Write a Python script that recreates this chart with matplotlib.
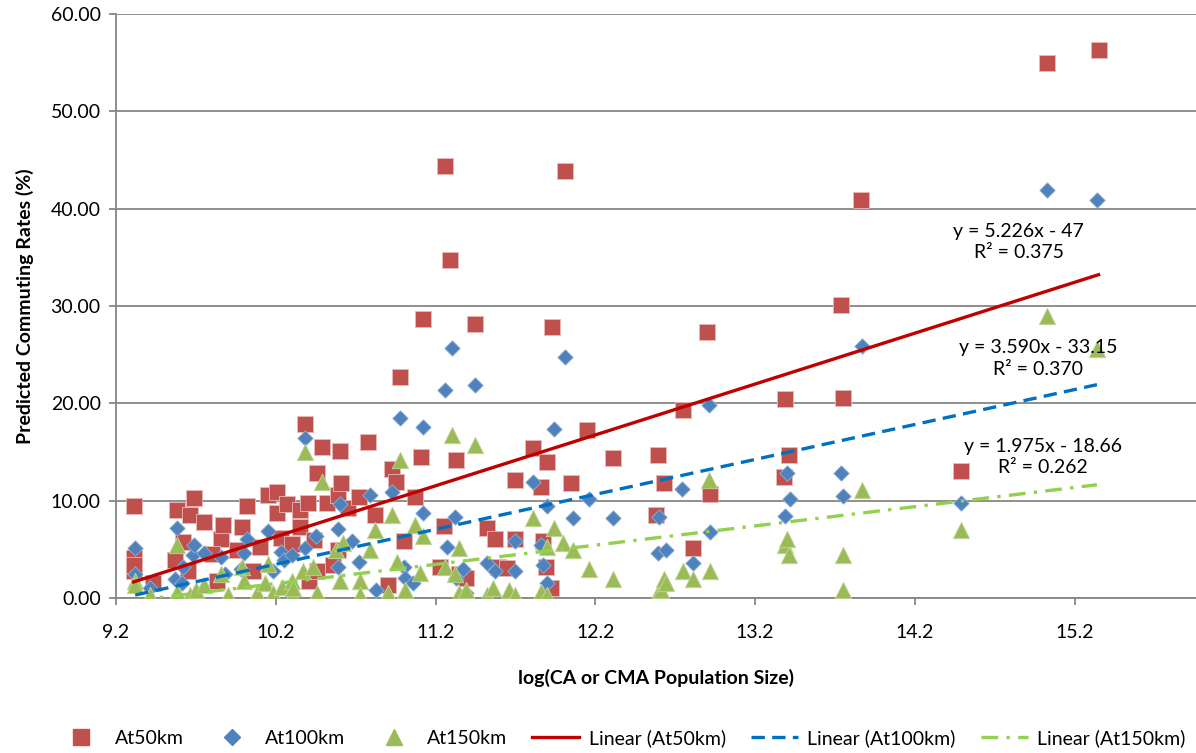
import matplotlib
matplotlib.use('Agg')
import matplotlib.pyplot as plt
from matplotlib.lines import Line2D

plt.rcParams['font.family'] = ['Lato', 'DejaVu Sans']

# data (x = log of population, y = predicted commuting rate %)
x50 = [9.31, 9.31, 9.31, 9.31, 9.43, 9.57, 9.58, 9.65, 9.66, 9.69, 9.75, 9.83, 9.86, 9.87,
       9.96, 9.99, 10.02, 10.06, 10.15, 10.21, 10.21, 10.23, 10.27, 10.30, 10.35, 10.35,
       10.38, 10.40, 10.41, 10.46, 10.46, 10.49, 10.52, 10.56, 10.59, 10.59, 10.60, 10.61,
       10.65, 10.72, 10.78, 10.82, 10.90, 10.93, 10.95, 10.98, 11.00, 11.07, 11.11, 11.12,
       11.23, 11.25, 11.26, 11.29, 11.33, 11.35, 11.39, 11.45, 11.52, 11.57, 11.59, 11.65,
       11.70, 11.70, 11.81, 11.86, 11.87, 11.89, 11.90, 11.92, 11.93, 12.01, 12.05, 12.15,
       12.31, 12.58, 12.59, 12.63, 12.75, 12.81, 12.90, 12.92, 13.38, 13.39, 13.41, 13.74,
       13.75, 13.86, 14.49, 15.03, 15.35, 9.62, 9.80, 10.10, 10.44]
y50 = [9.5, 4.1, 2.8, 3.4, 1.5, 3.9, 9.0, 2.8, 8.5, 10.3, 7.8, 1.8, 6.1, 7.5,
       4.9, 7.3, 9.5, 2.8, 10.6, 10.9, 8.7, 6.2, 9.7, 5.6, 9.0, 7.3,
       17.9, 9.8, 1.8, 12.8, 2.8, 15.5, 9.8, 3.4, 10.6, 4.9, 15.1, 11.8,
       9.3, 10.4, 16.0, 8.5, 1.3, 13.3, 11.9, 22.7, 5.9, 10.4, 14.5, 28.7,
       3.2, 7.4, 44.4, 34.7, 14.2, 2.5, 2.1, 28.2, 7.2, 6.1, 3.2, 3.1,
       12.1, 6.1, 15.4, 11.4, 5.9, 3.2, 14.0, 1.0, 27.8, 43.9, 11.8, 17.3,
       14.4, 8.5, 14.7, 11.8, 19.3, 5.1, 27.3, 10.7, 12.4, 20.4, 14.7, 30.1,
       20.5, 40.9, 13.0, 55.0, 56.3, 5.8, 4.5, 5.2, 6.0]

x100 = [9.32, 9.32, 9.41, 9.57, 9.58, 9.61, 9.62, 9.68, 9.69, 9.75, 9.86, 9.88, 9.98, 10.00,
        10.02, 10.15, 10.18, 10.23, 10.25, 10.30, 10.38, 10.38, 10.45, 10.59, 10.59, 10.60,
        10.68, 10.72, 10.79, 10.83, 10.93, 10.98, 11.00, 11.01, 11.06, 11.12, 11.12, 11.26,
        11.27, 11.30, 11.32, 11.33, 11.37, 11.39, 11.45, 11.52, 11.57, 11.70, 11.70, 11.81,
        11.86, 11.87, 11.90, 11.90, 11.94, 12.01, 12.06, 12.16, 12.31, 12.59, 12.60, 12.64,
        12.74, 12.81, 12.91, 12.92, 13.39, 13.40, 13.42, 13.74, 13.75, 13.87, 14.49, 15.03,
        15.34]
y100 = [5.1, 2.5, 1.0, 2.0, 7.2, 1.5, 3.2, 4.4, 5.4, 4.6, 4.2, 2.5, 3.0, 4.6,
        6.1, 6.9, 2.8, 4.7, 3.9, 4.4, 16.4, 5.1, 6.4, 7.1, 3.2, 9.7,
        5.9, 3.7, 10.6, 0.8, 10.9, 18.5, 3.2, 2.1, 1.5, 17.6, 8.7, 21.4,
        5.2, 25.7, 8.3, 2.1, 3.0, 0.5, 21.9, 3.6, 2.8, 5.9, 2.8, 11.9,
        5.4, 3.4, 9.5, 1.5, 17.4, 24.8, 8.2, 10.2, 8.2, 4.6, 8.3, 4.9,
        11.2, 3.6, 19.8, 6.8, 8.4, 12.8, 10.2, 12.8, 10.5, 25.9, 9.8, 41.9,
        40.9]

x150 = [9.32, 9.32, 9.41, 9.58, 9.58, 9.66, 9.70, 9.75, 9.86, 9.90, 9.99, 10.00, 10.08, 10.13,
        10.15, 10.18, 10.24, 10.30, 10.30, 10.31, 10.37, 10.38, 10.43, 10.46, 10.49, 10.58,
        10.60, 10.62, 10.73, 10.73, 10.79, 10.82, 10.90, 10.93, 10.96, 10.98, 11.01, 11.07,
        11.10, 11.12, 11.26, 11.30, 11.32, 11.35, 11.35, 11.39, 11.45, 11.52, 11.56, 11.66,
        11.70, 11.81, 11.86, 11.90, 11.90, 11.94, 12.00, 12.06, 12.16, 12.31, 12.59, 12.61,
        12.63, 12.64, 12.75, 12.81, 12.91, 12.92, 13.39, 13.40, 13.41, 13.75, 13.75, 13.87,
        14.49, 15.03, 15.34]
y150 = [1.8, 1.3, 0.3, 5.4, 0.6, 0.3, 0.8, 1.3, 2.5, 0.3, 3.2, 1.8, 0.5, 1.5,
        3.5, 0.5, 1.1, 1.8, 0.3, 1.0, 2.8, 15.0, 3.2, 0.5, 11.9, 4.9,
        1.8, 5.7, 1.8, 0.3, 4.9, 7.0, 0.5, 8.5, 3.7, 14.2, 0.8, 7.5,
        2.6, 6.4, 3.2, 16.7, 2.5, 5.1, 0.5, 0.8, 15.7, 0.3, 1.0, 0.8,
        0.3, 8.2, 0.6, 5.2, 0.3, 7.2, 5.7, 4.9, 3.0, 2.0, 0.5, 0.8,
        2.0, 1.5, 2.8, 2.0, 12.1, 2.8, 5.4, 6.1, 4.4, 4.4, 0.8, 11.1,
        7.0, 29.0, 25.6]

# trend line coefficients as printed on the chart
slopes = [5.226, 3.590, 1.975]
intercepts = [-47, -33.15, -18.66]
eq_labels = ['y = 5.226x - 47\nR² = 0.375',
             'y = 3.590x - 33.15\nR² = 0.370',
             'y = 1.975x - 18.66\nR² = 0.262']
names = ['At50km', 'At100km', 'At150km']

xticks = [9.2, 10.2, 11.2, 12.2, 13.2, 14.2, 15.2]
yticks = [0, 10, 20, 30, 40, 50, 60]

red, blue, green = '#C0504D', '#4F81BD', '#9BBB59'
line_cols = ['#C00000', '#0070C0', '#92D050']

fig = plt.figure(figsize=(11.96, 7.53), dpi=100)
ax = fig.add_axes([0.097, 0.2058, 0.903, 0.7756])

ax.scatter(x50, y50, marker='s', s=130, color=red, edgecolors='#E6B9B8', linewidths=0.6, zorder=3)
ax.scatter(x100, y100, marker='D', s=62, color=blue, edgecolors='#95B3D7', linewidths=0.6, zorder=4)
ax.scatter(x150, y150, marker='^', s=140, color=green, edgecolors='#C3D69B', linewidths=0.6, zorder=5)

xs = [(min(x50), max(x50)), (min(x100), max(x100)), (min(x150), max(x150))]
styles = ['-', (0, (4, 2.2)), (0, (5, 2.5, 1, 2.5))]
for i in range(3):
    x0, x1 = xs[i]
    ax.plot([x0, x1], [slopes[i] * x0 + intercepts[i], slopes[i] * x1 + intercepts[i]],
            color=line_cols[i], lw=2.4, ls=styles[i], zorder=6)

# equation labels
ax.text(14.85, 36.6, eq_labels[0], ha='center', va='center', fontsize=14, linespacing=1.3, zorder=7)
ax.text(14.97, 24.6, eq_labels[1], ha='center', va='center', fontsize=14, linespacing=1.3, zorder=7)
ax.text(15.0, 14.5, eq_labels[2], ha='center', va='center', fontsize=14, linespacing=1.3, zorder=7)

ax.set_xlim(9.2, 15.96)
ax.set_ylim(0, 60)
ax.set_xticks(xticks)
ax.set_xticklabels([str(t) for t in xticks])
ax.set_yticks(yticks)
ax.set_yticklabels(['%.2f' % t for t in yticks])
ax.tick_params(axis='both', colors='#868686', labelcolor='black', labelsize=14, length=5, width=1.3)
ax.tick_params(axis='x', pad=14)
ax.tick_params(axis='y', pad=6)
ax.grid(axis='y', color='#868686', lw=1.3)
ax.set_axisbelow(True)
for side in ['top', 'right']:
    ax.spines[side].set_visible(False)
for side in ['left', 'bottom']:
    ax.spines[side].set_color('#868686')
    ax.spines[side].set_linewidth(1.3)

ax.set_ylabel('Predicted Commuting Rates (%)', fontsize=14, fontweight='bold', labelpad=12)
ax.set_xlabel('log(CA or CMA Population Size)', fontsize=14, fontweight='bold', labelpad=20)

handles = [
    Line2D([], [], ls='', marker='s', ms=11, color=red),
    Line2D([], [], ls='', marker='D', ms=8, color=blue),
    Line2D([], [], ls='', marker='^', ms=11, color=green),
    Line2D([], [], color=line_cols[0], lw=2.4, ls=styles[0]),
    Line2D([], [], color=line_cols[1], lw=2.4, ls=styles[1]),
    Line2D([], [], color=line_cols[2], lw=2.4, ls=styles[2]),
]
labels = names + ['Linear (%s)' % n for n in names]
fig.legend(handles, labels, loc='center', bbox_to_anchor=(0.52, 0.02), ncol=6, frameon=False,
           fontsize=14, handlelength=2.4, columnspacing=1.3, handletextpad=0.5)

fig.savefig('out.png', dpi=100)
